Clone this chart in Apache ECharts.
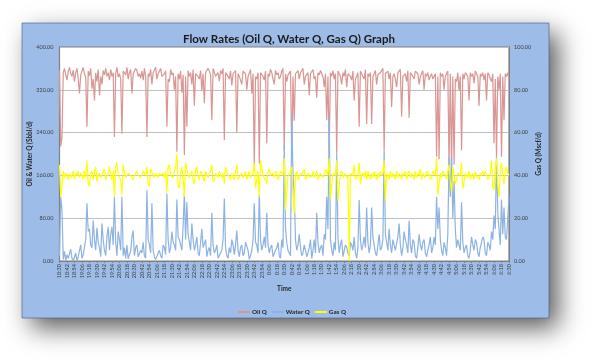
<!DOCTYPE html>
<html><head><meta charset="utf-8">
<script src="https://cdn.jsdelivr.net/npm/echarts@6/dist/echarts.min.js"></script>
<style>html,body{margin:0;padding:0;background:#fff}#c{width:591px;height:362px}</style>
</head><body><div id="c"></div>
<script>
const tickLabels = ['18:30','18:42','18:54',
 '19:06','19:18','19:30','19:42','19:54','20:06','20:18','20:30','20:42','20:54',
 '21:06','21:18','21:30','21:42','21:54','22:06','22:18','22:30','22:42','22:54',
 '23:06','23:18','23:30','23:42','23:54','0:06','0:18','0:30','0:42','0:54',
 '1:06','1:18','1:30','1:42','1:54','2:06','2:18','2:30','2:42','2:54',
 '3:06','3:18','3:30','3:42','3:54','4:06','4:18','4:30','4:42','4:54',
 '5:06','5:18','5:30','5:42','5:54','6:06','6:18','6:30'];

const oilQ = [
 356,214,232,352,360,348,338,355,362,350,345,357,335,352,360,340,313,348,355,362,
 350,344,251,355,346,360,322,340,300,352,335,358,310,345,330,356,348,360,345,352,
 338,358,345,352,232,350,362,344,350,340,238,355,358,348,362,340,352,358,313,350,
 348,360,356,345,350,342,355,338,360,345,232,350,345,358,330,352,355,362,340,350,
 352,360,345,348,350,355,251,340,335,358,348,352,320,345,204,350,340,355,315,348,
 198,345,251,356,345,352,330,358,290,350,352,345,340,356,318,350,295,352,350,360,
 355,348,263,360,358,345,345,352,336,356,350,360,226,352,352,345,340,355,328,350,
 348,356,240,350,345,338,330,355,355,350,320,345,345,358,313,350,176,345,340,352,
 182,352,350,345,338,355,220,350,345,358,352,340,330,356,348,352,340,345,355,360,
 207,350,335,348,350,355,198,345,262,350,348,356,340,352,355,360,330,345,345,352,
 310,350,352,358,340,345,305,352,348,356,355,345,325,350,263,345,207,352,345,356,
 340,350,201,355,350,345,330,352,345,358,325,350,352,345,338,355,300,340,345,352,
 251,355,352,345,340,358,256,350,345,352,256,345,350,356,330,348,345,352,355,360,
 207,350,348,355,340,352,288,345,350,340,325,352,352,358,270,345,345,350,335,356,
 268,352,350,345,340,355,352,350,330,345,348,356,320,350,345,352,338,345,350,340,
 340,350,195,345,190,352,345,350,320,345,350,355,176,350,173,345,180,340,335,352,
 318,345,207,350,340,352,350,345,300,352,345,350,332,355,350,345,290,350,345,352,
 338,350,300,352,348,345,335,350,220,340,195,345,320,350,195,345,263,350,345,352,
 340];

const waterQ = [
 10,120,95,3,18,0,12,5,2,22,5,0,3,15,0,8,20,30,5,12,
 15,40,108,55,60,30,25,76,40,20,62,35,25,8,70,40,20,10,45,64,
 20,50,64,30,120,35,10,55,40,20,120,10,25,5,30,4,12,18,45,57,
 10,25,30,8,5,20,15,35,10,5,132,40,30,15,108,20,8,3,2,15,
 20,10,5,30,25,12,126,40,15,25,55,35,30,20,115,45,40,30,20,65,
 126,40,110,50,35,20,70,40,20,30,45,15,10,35,60,25,25,40,8,20,
 25,10,90,30,15,20,30,5,5,15,20,40,117,25,10,5,25,15,40,30,
 12,30,57,20,8,25,30,10,15,35,35,20,3,10,20,40,108,35,30,15,
 126,40,20,30,45,25,90,30,15,25,30,8,5,20,25,35,10,5,40,25,
 218,60,35,20,15,10,275,160,126,40,20,30,50,25,10,15,30,20,8,15,
 25,40,5,20,40,15,90,35,15,25,30,10,50,40,120,60,270,40,20,10,
 35,20,201,45,15,30,40,8,8,30,25,15,10,35,30,20,45,15,5,25,
 114,40,20,30,45,25,100,35,15,30,100,45,30,15,10,30,50,20,25,40,
 207,50,35,20,60,30,15,40,40,20,20,45,70,30,10,25,55,40,30,15,
 75,30,15,40,35,10,5,25,50,30,20,35,40,15,8,20,30,45,15,25,
 45,30,120,60,100,40,20,10,35,25,10,50,195,120,195,80,150,60,25,40,
 40,20,110,35,15,25,30,10,5,20,45,30,20,40,35,15,8,25,25,45,
 40,15,10,35,30,20,55,40,85,60,195,90,60,30,115,50,100,45,40,80,
 120];

const gasQ = [
 45,30,35,42,39,41,40,38,41,39,40,42,38,41,40,42,39,41,40,38,
 42,39,47,36,35,41,42,38,38,44,37,40,41,39,40,42,43,38,38,41,
 44,40,38,42,30,44,46,40,40,38,31,45,42,39,39,41,41,40,40,38,
 38,41,42,40,40,39,39,42,41,40,44,36,35,43,43,40,39,41,40,39,
 41,40,40,41,39,42,32,44,45,40,40,39,42,44,50,35,34,41,44,38,
 30,46,46,40,39,41,42,38,36,43,44,39,38,42,41,39,37,42,40,39,
 41,42,45,37,38,41,40,39,42,40,39,41,36,44,44,40,40,38,41,39,
 38,41,45,38,39,40,41,39,40,42,38,40,42,39,40,41,46,34,38,42,
 30,47,47,40,40,38,36,42,43,40,40,41,39,42,41,38,40,42,42,40,
 48,24,24,40,41,42,44,30,22,40,42,38,39,41,40,42,43,38,38,41,
 41,39,40,42,39,40,42,38,38,41,41,39,40,43,43,40,48,29,29,41,
 41,40,47,28,28,41,42,39,40,41,39,40,0,41,41,40,45,38,38,40,
 46,36,40,41,39,42,38,42,40,38,41,39,42,40,38,41,39,42,40,41,
 47,28,41,40,38,42,39,41,40,38,42,39,41,40,38,41,40,42,38,41,
 42,39,41,40,38,42,39,41,40,43,38,41,40,39,42,40,41,38,39,42,
 41,40,48,31,31,41,39,42,41,40,38,42,45,37,32,44,44,36,38,41,
 41,40,46,34,37,41,40,39,42,38,40,41,38,42,40,39,38,41,40,42,
 40,42,42,38,39,41,47,35,33,44,48,36,30,42,46,40,36,42,44,41,
 40];

function addMin(t, m) {
  const p = t.split(':');
  const tot = (parseInt(p[0]) * 60 + parseInt(p[1]) + m) % 1440;
  const h = Math.floor(tot / 60), mm = tot % 60;
  return h + ':' + (mm < 10 ? '0' : '') + mm;
}
const categories = [];
for (let k = 0; k < tickLabels.length; k++) {
  categories.push(tickLabels[k]);
  if (k < tickLabels.length - 1) {
    for (let s = 1; s < 6; s++) categories.push(addMin(tickLabels[k], 2 * s));
  }
}

const chart = echarts.init(document.getElementById('c'), null, {renderer: 'canvas'});
const FONT = 'Lato, "Open Sans", sans-serif';
const txt = '#404040';
chart.setOption({
  animation: false,
  backgroundColor: '#ffffff',
  graphic: [
    {type: 'rect', z: -20, shape: {x: 22, y: 23, width: 527, height: 295},
     style: {fill: '#9dbde8', shadowBlur: 24, shadowOffsetX: 9, shadowOffsetY: 10, shadowColor: 'rgba(0,0,0,0.65)'}},
    {type: 'rect', z: -19, shape: {x: 22, y: 23, width: 527, height: 295},
     style: {fill: '#9dbde8', stroke: 'rgba(70,90,120,0.6)', lineWidth: 1}}
  ],
  title: {
    text: 'Flow Rates (Oil Q, Water Q, Gas Q) Graph',
    left: 284, top: 28, textAlign: 'center',
    textStyle: {fontFamily: FONT, fontWeight: 'bold', fontSize: 11.5, color: '#1a1a1a'}
  },
  legend: {
    data: ['Oil Q', 'Water Q', 'Gas Q'],
    left: 233, top: 304,
    icon: 'rect', itemWidth: 12, itemHeight: 2, itemGap: 5,
    textStyle: {fontFamily: FONT, fontWeight: 'bold', fontSize: 6.3, color: '#262626', padding: [0, 0, 0, -3]}
  },
  grid: {
    left: 59.5, top: 47, width: 449.5, height: 214,
    show: true, backgroundColor: '#ffffff', borderColor: '#808080', borderWidth: 1.2,
    containLabel: false
  },
  xAxis: {
    type: 'category', data: categories, boundaryGap: false,
    name: 'Time', nameLocation: 'middle', nameGap: 24, nameMoveOverlap: false,
    nameTextStyle: {fontFamily: FONT, fontWeight: 'bold', fontSize: 6.5, color: '#262626'},
    axisLine: {lineStyle: {color: '#808080', width: 1}},
    axisTick: {show: true, interval: 5, length: 2, lineStyle: {color: '#808080'}},
    axisLabel: {interval: 5, rotate: 90, margin: 3, fontFamily: FONT, fontSize: 5.5, color: txt},
    splitLine: {show: false}
  },
  yAxis: [
    {type: 'value', min: 0, max: 400, interval: 80, position: 'left',
     name: 'Oil & Water Q (Sbbl/d)', nameLocation: 'middle', nameRotate: 90, nameGap: 26, nameMoveOverlap: false,
     nameTextStyle: {fontFamily: FONT, fontWeight: 'bold', fontSize: 6.5, color: '#262626'},
     axisLine: {show: true, lineStyle: {color: '#808080'}},
     axisTick: {show: false},
     axisLabel: {margin: 6, fontFamily: FONT, fontSize: 5.5, color: txt, formatter: v => v.toFixed(2)},
     splitLine: {lineStyle: {color: '#c0c0c0', width: 1.2}}},
    {type: 'value', min: 0, max: 100, interval: 20, position: 'right',
     name: 'Gas Q (Mscf/d)', nameLocation: 'middle', nameRotate: 90, nameGap: 26, nameMoveOverlap: false,
     nameTextStyle: {fontFamily: FONT, fontWeight: 'bold', fontSize: 6.5, color: '#262626'},
     axisLine: {show: true, lineStyle: {color: '#808080'}},
     axisTick: {show: false},
     axisLabel: {margin: 5, fontFamily: FONT, fontSize: 5.5, color: txt, formatter: v => v.toFixed(2)},
     splitLine: {show: false}}
  ],
  series: [
    {name: 'Oil Q', type: 'line', data: oilQ, yAxisIndex: 0, showSymbol: false, symbol: 'none',
     color: '#d99694', lineStyle: {width: 1.2, color: '#d99694'}, z: 2},
    {name: 'Water Q', type: 'line', data: waterQ, yAxisIndex: 0, showSymbol: false, symbol: 'none',
     color: '#8db3e2', lineStyle: {width: 1.2, color: '#8db3e2'}, z: 3},
    {name: 'Gas Q', type: 'line', data: gasQ, yAxisIndex: 1, showSymbol: false, symbol: 'none',
     color: '#ffff00', lineStyle: {width: 1.2, color: '#ffff00'}, z: 4}
  ]
});
</script>
</body></html>
